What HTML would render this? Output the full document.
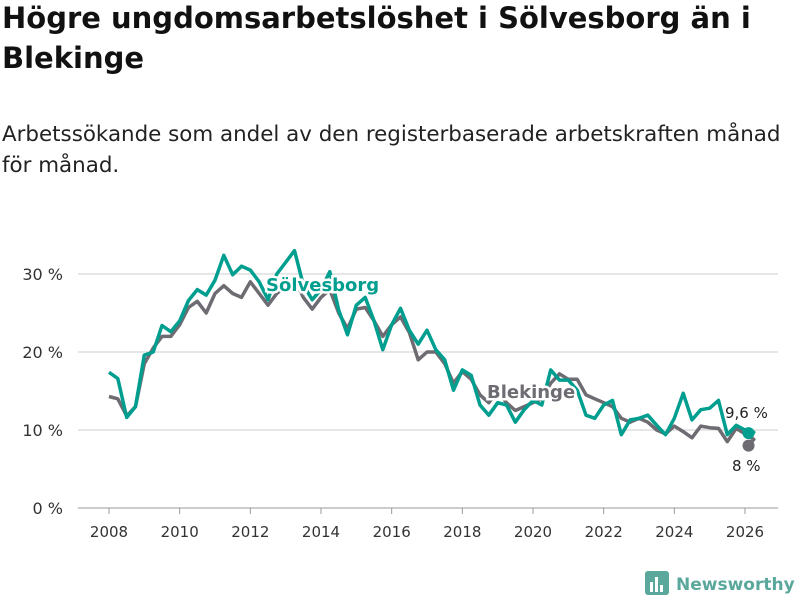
<!DOCTYPE html>
<html><head><meta charset="utf-8">
<style>
body{margin:0;background:#fff;font-family:"Liberation Sans","DejaVu Sans",sans-serif;}
#wrap{position:relative;width:800px;height:600px;overflow:hidden;}
h1{position:absolute;left:2px;top:-2px;margin:0;font-size:29px;line-height:40px;font-weight:bold;color:#111;font-family:"DejaVu Sans",sans-serif;letter-spacing:0px;}
.sub{position:absolute;left:2px;top:119px;margin:0;font-size:21.4px;line-height:31px;color:#222;font-family:"DejaVu Sans",sans-serif;letter-spacing:0px;}
svg{position:absolute;left:0;top:0;}
</style></head><body>
<div id="wrap">
<h1>Högre ungdomsarbetslöshet i Sölvesborg än i<br>Blekinge</h1>
<p class="sub">Arbetssökande som andel av den registerbaserade arbetskraften månad<br>för månad.</p>
<svg id="chart" width="800" height="600"></svg>
</div>
<script>
const startYear = 2008;
const stepYears = 0.25;
const solvesborg = [17.4,16.6,11.6,13,19.6,20,23.4,22.6,24,26.6,28,27.3,29.2,32.4,29.9,31,30.5,29,26.7,30,31.5,33,28.6,26.7,28,30.3,25.4,22.2,26,27,24,20.3,23.5,25.6,22.8,21,22.8,20.3,19,15.1,17.7,17,13.2,11.9,13.5,13.2,11,12.6,13.8,13.2,17.7,16.4,16.4,15.1,11.9,11.5,13.2,13.8,9.4,11.3,11.5,11.9,10.6,9.4,11.5,14.7,11.3,12.6,12.8,13.8,9.4,10.6,10,9.7,9.6];
const blekinge = [14.3,14,11.8,13,18.5,20.5,22,22,23.5,25.7,26.5,25,27.5,28.5,27.5,27,29,27.5,26,27.5,28.5,29.5,27,25.5,27,28,25,23,25.5,25.7,24,22,23.5,24.5,22.5,19,20,20,18.5,16,17.5,16.5,14.5,13.5,15,13.5,12.5,13,13.5,14,16,17.2,16.5,16.5,14.5,14,13.5,13,11.5,11,11.5,11,10,9.5,10.5,9.8,9,10.5,10.3,10.2,8.5,10.2,9.5,8.8,8.0];
const yTicks = [0,10,20,30];
const yTickLabels = ["0 %","10 %","20 %","30 %"];
const xTicks = [2008,2010,2012,2014,2016,2018,2020,2022,2024,2026];

const NS="http://www.w3.org/2000/svg";
const svg=document.getElementById('chart');
const xs=y=>109+(y-2008)*(745-109)/18;
const ys=v=>508-v*7.8;
const t=(i,n)=>i===n-1?2026.1:startYear+i*stepYears;
function mk(tag,attrs,parent){const e=document.createElementNS(NS,tag);for(const k in attrs)e.setAttribute(k,attrs[k]);(parent||svg).appendChild(e);return e;}

yTicks.forEach((v,i)=>{
  const g=mk('line',{x1:78,x2:778,y1:ys(v),y2:ys(v),stroke:v===0?'#bbb':'#ddd','stroke-width':1.5});
  
  
  const l=mk('text',{x:63,y:ys(v)+6,'text-anchor':'end','font-size':16,fill:'#333','font-family':'DejaVu Sans, sans-serif'});
  l.textContent=yTickLabels[i];
  
  
});
xTicks.forEach(y=>{
  const tk=mk('line',{x1:xs(y),x2:xs(y),y1:508,y2:514,stroke:'#999'});
  
  
  const l=mk('text',{x:xs(y),y:537,'text-anchor':'middle','font-size':15,fill:'#333','font-family':'DejaVu Sans, sans-serif'});
  l.textContent=y;
  
  
});
function line(arr,color,name){
  const d=arr.map((v,i)=>(i?'L':'M')+xs(t(i,arr.length)).toFixed(1)+','+ys(v).toFixed(1)).join('');
  const p=mk('path',{d:d,fill:'none',stroke:color,'stroke-width':3.5,'stroke-linejoin':'round'});
  
  
  const n=arr.length-1;
  const c=mk('circle',{cx:xs(t(n,arr.length)),cy:ys(arr[n]),r:6,fill:color});
  
  
}
line(blekinge,'#6e6c72','blekinge');
line(solvesborg,'#009e8f','solvesborg');
function lab(x,y,txt,color,name,size,bold){
  const e=mk('text',{x:x,y:y,'font-size':size,fill:color,'font-weight':bold?'bold':'normal','font-family':'DejaVu Sans, sans-serif',stroke:bold?'#fff':'none','stroke-width':bold?5:0,'paint-order':'stroke'});
  e.textContent=txt;
  
  
}
lab(266,291,'Sölvesborg','#009e8f','solvesborg-label',18,true);
lab(487,398,'Blekinge','#6e6c72','blekinge-label',18,true);
lab(725,418,'9,6 %','#222','solvesborg-value-label',15,false);
lab(732,471,'8 %','#222','blekinge-value-label',15,false);
const lg=mk('g',{});


mk('rect',{x:645,y:571,width:24,height:24,rx:3,fill:'#5aa89c'},lg);
mk('rect',{x:650,y:582,width:3,height:10,fill:'#fff'},lg);
mk('rect',{x:655,y:577,width:3,height:15,fill:'#fff'},lg);
mk('rect',{x:660,y:585,width:3,height:7,fill:'#fff'},lg);
const lt=mk('text',{x:676,y:590,'font-size':17,'font-weight':'bold',fill:'#5aa89c','font-family':'DejaVu Sans, sans-serif'},lg);
lt.textContent='Newsworthy';
</script>
</body></html>
